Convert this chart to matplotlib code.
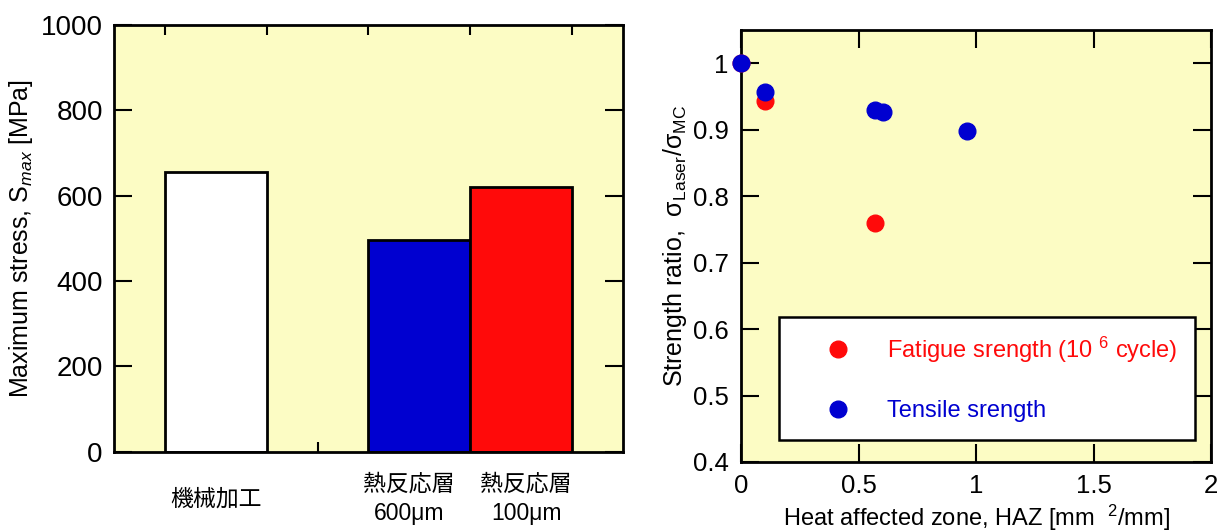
import matplotlib.pyplot as plt

plt.rcParams['font.family'] = ['Liberation Sans', 'Noto Sans CJK JP', 'DejaVu Sans']
plt.rcParams['mathtext.fontset'] = 'custom'
plt.rcParams['mathtext.rm'] = 'Liberation Sans'
plt.rcParams['mathtext.it'] = 'Liberation Sans:italic'
plt.rcParams['mathtext.sf'] = 'Liberation Sans'

bg = '#fcfcc4'
blue = '#0000d0'
red = '#ff0a0a'

# left panel: max stress per surface condition
bar_labels = ['機械加工', '熱反応層\n600μm', '熱反応層\n100μm']
bar_pos = [1, 3, 4]
bar_label_pos = [1, 2.9, 4.05]
bar_values = [656, 497, 621]
bar_colors = ['white', blue, red]

# right panel: strength ratio vs heat affected zone
haz_fatigue = [0.0, 0.1, 0.57]
ratio_fatigue = [1.0, 0.943, 0.76]
haz_tensile = [0.0, 0.1, 0.57, 0.605, 0.96]
ratio_tensile = [1.0, 0.957, 0.93, 0.926, 0.898]

fig = plt.figure(figsize=(12.25, 5.31), dpi=100)

ax1 = fig.add_axes([0.093, 0.149, 0.4155, 0.804])
ax1.set_facecolor(bg)
ax1.bar(bar_pos, bar_values, width=1.0, color=bar_colors,
        edgecolor='black', linewidth=2, zorder=3)
ax1.set_xlim(0, 5)
ax1.set_ylim(0, 1000)
ax1.set_yticks(range(0, 1001, 200))
ax1.tick_params(axis='y', direction='in', length=13, width=1.5,
                right=True, labelsize=20, pad=8)
ax1.set_xticks([1, 2, 3, 4])
ax1.set_xticklabels([])
ax1.set_xticks([0.5 + 0.5 * i for i in range(9)], minor=True)
ax1.tick_params(axis='x', which='major', direction='in', length=7,
                width=1.5, zorder=4)
ax1.tick_params(axis='x', which='minor', direction='in', length=7,
                width=1.5, bottom=False, top=True)
for sp in ax1.spines.values():
    sp.set_linewidth(2)
    sp.set_zorder(5)
for x, lab in zip(bar_label_pos, bar_labels):
    ax1.text(x, -0.11, lab, transform=ax1.get_xaxis_transform(),
             ha='center', va='center', fontsize=16.5, linespacing=1.35)
ax1.set_ylabel(r'Maximum stress, S$_{max}$ [MPa]', fontsize=18, labelpad=4)

ax2 = fig.add_axes([0.605, 0.130, 0.3837, 0.8136])
ax2.set_facecolor(bg)
ax2.plot(haz_fatigue, ratio_fatigue, 'o', color=red, markersize=12,
         label='Fatigue srength (10 $^{6}$ cycle)', clip_on=False, zorder=3)
ax2.plot(haz_tensile, ratio_tensile, 'o', color=blue, markersize=12,
         label='Tensile srength', clip_on=False, zorder=3)
ax2.set_xlim(0, 2)
ax2.set_ylim(0.4, 1.05)
ax2.set_xticks([0, 0.5, 1, 1.5, 2])
ax2.set_xticklabels(['0', '0.5', '1', '1.5', '2'])
ax2.set_yticks([0.4, 0.5, 0.6, 0.7, 0.8, 0.9, 1.0])
ax2.set_yticklabels(['0.4', '0.5', '0.6', '0.7', '0.8', '0.9', '1'])
ax2.tick_params(direction='in', length=13, width=1.5, top=True, right=True,
                labelsize=18.5, pad=9)
for sp in ax2.spines.values():
    sp.set_linewidth(2)
ax2.set_xlabel(r'Heat affected zone, HAZ [mm  $^{2}$/mm]', fontsize=17,
               labelpad=3)
ax2.set_ylabel('Strength ratio,  σ$_{\\mathrm{Laser}}$/σ$_{\\mathrm{MC}}$',
               fontsize=18, labelpad=3)
leg = ax2.legend(loc='center left', bbox_to_anchor=(0.08, 0.051, 0.885, 0.285),
                 mode='expand', fontsize=17, frameon=True, fancybox=False,
                 edgecolor='black', framealpha=1, labelcolor=[red, blue],
                 handlelength=3.5, handletextpad=0.33, borderpad=0.74,
                 labelspacing=1.5, borderaxespad=0, markerscale=1.0)
leg.get_frame().set_linewidth(1.8)
leg.set_zorder(6)

fig.savefig('out.png', dpi=100)
